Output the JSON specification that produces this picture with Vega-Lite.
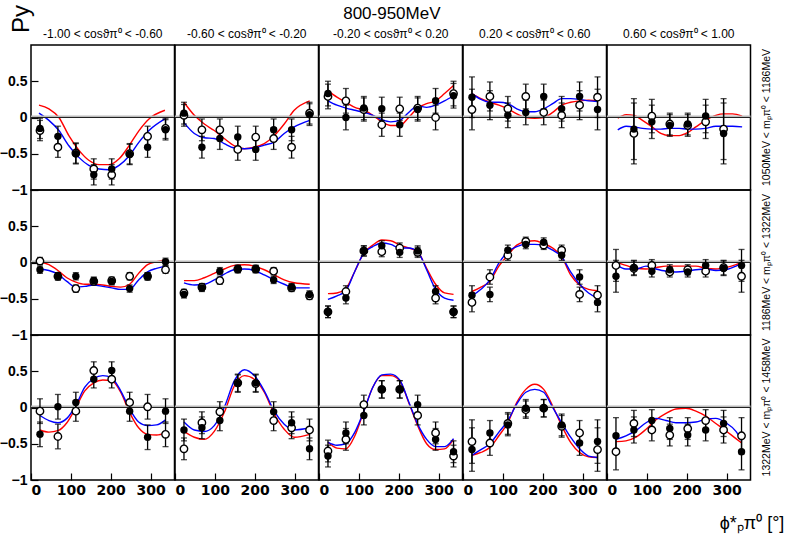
{
  "$schema": "https://vega.github.io/schema/vega-lite/v6.json",
  "background": "white",
  "padding": {"left": -1, "right": 4, "top": 5, "bottom": 2},
  "title": {"text": "Py", "orient": "left", "anchor": "end", "offset": -35, "fontSize": 24, "fontWeight": "normal", "font": "Liberation Sans", "color": "black"},
  "vconcat": [
    {
      "title": {"text": "800-950MeV", "anchor": "middle", "fontSize": 17, "fontWeight": "normal", "font": "Liberation Sans", "color": "black", "offset": 5},
      "bounds": "flush",
      "data": {"values": [
        {"m":1,"c":1,"t":"f","x":22.5,"y":-0.15,"e":0.14},{"m":1,"c":1,"t":"f","x":67.5,"y":-0.26,"e":0.14},{"m":1,"c":1,"t":"f","x":112.5,"y":-0.50,"e":0.14},{"m":1,"c":1,"t":"f","x":157.5,"y":-0.79,"e":0.14},{"m":1,"c":1,"t":"f","x":202.5,"y":-0.71,"e":0.14},{"m":1,"c":1,"t":"f","x":247.5,"y":-0.51,"e":0.14},{"m":1,"c":1,"t":"f","x":292.5,"y":-0.41,"e":0.14},{"m":1,"c":1,"t":"f","x":337.5,"y":-0.17,"e":0.14},
        {"m":1,"c":1,"t":"o","x":22.5,"y":-0.18,"e":0.14},{"m":1,"c":1,"t":"o","x":67.5,"y":-0.41,"e":0.14},{"m":1,"c":1,"t":"o","x":112.5,"y":-0.49,"e":0.14},{"m":1,"c":1,"t":"o","x":157.5,"y":-0.71,"e":0.14},{"m":1,"c":1,"t":"o","x":202.5,"y":-0.79,"e":0.14},{"m":1,"c":1,"t":"o","x":247.5,"y":-0.50,"e":0.14},{"m":1,"c":1,"t":"o","x":292.5,"y":-0.26,"e":0.14},{"m":1,"c":1,"t":"o","x":337.5,"y":-0.15,"e":0.14},
        {"m":1,"c":1,"t":"r","x":20,"y":0.17},{"m":1,"c":1,"t":"r","x":45,"y":0.12},{"m":1,"c":1,"t":"r","x":70,"y":0.0},{"m":1,"c":1,"t":"r","x":95,"y":-0.25},{"m":1,"c":1,"t":"r","x":120,"y":-0.45},{"m":1,"c":1,"t":"r","x":145,"y":-0.59},{"m":1,"c":1,"t":"r","x":171,"y":-0.65},{"m":1,"c":1,"t":"r","x":196,"y":-0.65},{"m":1,"c":1,"t":"r","x":221,"y":-0.57},{"m":1,"c":1,"t":"r","x":246,"y":-0.39},{"m":1,"c":1,"t":"r","x":271,"y":-0.18},{"m":1,"c":1,"t":"r","x":296,"y":-0.02},{"m":1,"c":1,"t":"r","x":336,"y":0.10},
        {"m":1,"c":1,"t":"b","x":20,"y":0.06},{"m":1,"c":1,"t":"b","x":45,"y":-0.04},{"m":1,"c":1,"t":"b","x":70,"y":-0.18},{"m":1,"c":1,"t":"b","x":95,"y":-0.39},{"m":1,"c":1,"t":"b","x":120,"y":-0.55},{"m":1,"c":1,"t":"b","x":145,"y":-0.66},{"m":1,"c":1,"t":"b","x":171,"y":-0.71},{"m":1,"c":1,"t":"b","x":196,"y":-0.72},{"m":1,"c":1,"t":"b","x":221,"y":-0.66},{"m":1,"c":1,"t":"b","x":246,"y":-0.53},{"m":1,"c":1,"t":"b","x":271,"y":-0.34},{"m":1,"c":1,"t":"b","x":296,"y":-0.18},{"m":1,"c":1,"t":"b","x":336,"y":-0.02},

        {"m":1,"c":2,"t":"f","x":22.5,"y":0.06,"e":0.15},{"m":1,"c":2,"t":"f","x":67.5,"y":-0.41,"e":0.15},{"m":1,"c":2,"t":"f","x":112.5,"y":-0.29,"e":0.15},{"m":1,"c":2,"t":"f","x":157.5,"y":-0.27,"e":0.15},{"m":1,"c":2,"t":"f","x":202.5,"y":-0.44,"e":0.15},{"m":1,"c":2,"t":"f","x":247.5,"y":-0.17,"e":0.15},{"m":1,"c":2,"t":"f","x":292.5,"y":-0.17,"e":0.15},{"m":1,"c":2,"t":"f","x":337.5,"y":0.04,"e":0.15},
        {"m":1,"c":2,"t":"o","x":22.5,"y":0.03,"e":0.15},{"m":1,"c":2,"t":"o","x":67.5,"y":-0.17,"e":0.15},{"m":1,"c":2,"t":"o","x":112.5,"y":-0.17,"e":0.15},{"m":1,"c":2,"t":"o","x":157.5,"y":-0.44,"e":0.15},{"m":1,"c":2,"t":"o","x":202.5,"y":-0.27,"e":0.15},{"m":1,"c":2,"t":"o","x":247.5,"y":-0.29,"e":0.15},{"m":1,"c":2,"t":"o","x":292.5,"y":-0.41,"e":0.15},{"m":1,"c":2,"t":"o","x":337.5,"y":0.06,"e":0.15},
        {"m":1,"c":2,"t":"r","x":22.5,"y":0.21},{"m":1,"c":2,"t":"r","x":48.5,"y":0.03},{"m":1,"c":2,"t":"r","x":73.5,"y":-0.09},{"m":1,"c":2,"t":"r","x":98.5,"y":-0.18},{"m":1,"c":2,"t":"r","x":123.5,"y":-0.29},{"m":1,"c":2,"t":"r","x":149,"y":-0.39},{"m":1,"c":2,"t":"r","x":174,"y":-0.43},{"m":1,"c":2,"t":"r","x":199,"y":-0.41},{"m":1,"c":2,"t":"r","x":224,"y":-0.36},{"m":1,"c":2,"t":"r","x":249,"y":-0.25},{"m":1,"c":2,"t":"r","x":274,"y":-0.09},{"m":1,"c":2,"t":"r","x":299,"y":0.10},{"m":1,"c":2,"t":"r","x":338,"y":0.23},
        {"m":1,"c":2,"t":"b","x":22.5,"y":-0.07},{"m":1,"c":2,"t":"b","x":48.5,"y":-0.22},{"m":1,"c":2,"t":"b","x":73.5,"y":-0.28},{"m":1,"c":2,"t":"b","x":98.5,"y":-0.29},{"m":1,"c":2,"t":"b","x":123.5,"y":-0.36},{"m":1,"c":2,"t":"b","x":149,"y":-0.42},{"m":1,"c":2,"t":"b","x":174,"y":-0.43},{"m":1,"c":2,"t":"b","x":199,"y":-0.42},{"m":1,"c":2,"t":"b","x":224,"y":-0.38},{"m":1,"c":2,"t":"b","x":249,"y":-0.34},{"m":1,"c":2,"t":"b","x":274,"y":-0.22},{"m":1,"c":2,"t":"b","x":299,"y":-0.13},{"m":1,"c":2,"t":"b","x":338,"y":-0.04},

        {"m":1,"c":3,"t":"f","x":22.5,"y":0.33,"e":0.17},{"m":1,"c":3,"t":"f","x":67.5,"y":0.0,"e":0.17},{"m":1,"c":3,"t":"f","x":112.5,"y":0.13,"e":0.16},{"m":1,"c":3,"t":"f","x":157.5,"y":0.12,"e":0.16},{"m":1,"c":3,"t":"f","x":202.5,"y":-0.10,"e":0.16},{"m":1,"c":3,"t":"f","x":247.5,"y":0.11,"e":0.16},{"m":1,"c":3,"t":"f","x":292.5,"y":0.23,"e":0.17},{"m":1,"c":3,"t":"f","x":337.5,"y":0.30,"e":0.17},
        {"m":1,"c":3,"t":"o","x":22.5,"y":0.29,"e":0.17},{"m":1,"c":3,"t":"o","x":67.5,"y":0.23,"e":0.17},{"m":1,"c":3,"t":"o","x":112.5,"y":0.11,"e":0.16},{"m":1,"c":3,"t":"o","x":157.5,"y":-0.10,"e":0.16},{"m":1,"c":3,"t":"o","x":202.5,"y":0.12,"e":0.16},{"m":1,"c":3,"t":"o","x":247.5,"y":0.13,"e":0.16},{"m":1,"c":3,"t":"o","x":292.5,"y":0.0,"e":0.17},{"m":1,"c":3,"t":"o","x":337.5,"y":0.33,"e":0.17},
        {"m":1,"c":3,"t":"r","x":22.5,"y":0.37},{"m":1,"c":3,"t":"r","x":45,"y":0.28},{"m":1,"c":3,"t":"r","x":67.5,"y":0.21},{"m":1,"c":3,"t":"r","x":90,"y":0.14},{"m":1,"c":3,"t":"r","x":112.5,"y":0.10},{"m":1,"c":3,"t":"r","x":135,"y":0.03},{"m":1,"c":3,"t":"r","x":157.5,"y":-0.06},{"m":1,"c":3,"t":"r","x":180,"y":-0.11},{"m":1,"c":3,"t":"r","x":202.5,"y":-0.11},{"m":1,"c":3,"t":"r","x":225,"y":0.0},{"m":1,"c":3,"t":"r","x":247.5,"y":0.13},{"m":1,"c":3,"t":"r","x":270,"y":0.19},{"m":1,"c":3,"t":"r","x":292.5,"y":0.23},{"m":1,"c":3,"t":"r","x":315,"y":0.33},{"m":1,"c":3,"t":"r","x":337.5,"y":0.44},
        {"m":1,"c":3,"t":"b","x":22.5,"y":0.23},{"m":1,"c":3,"t":"b","x":45,"y":0.17},{"m":1,"c":3,"t":"b","x":67.5,"y":0.13},{"m":1,"c":3,"t":"b","x":90,"y":0.10},{"m":1,"c":3,"t":"b","x":112.5,"y":0.07},{"m":1,"c":3,"t":"b","x":135,"y":0.03},{"m":1,"c":3,"t":"b","x":157.5,"y":-0.03},{"m":1,"c":3,"t":"b","x":180,"y":-0.06},{"m":1,"c":3,"t":"b","x":202.5,"y":-0.04},{"m":1,"c":3,"t":"b","x":225,"y":0.07},{"m":1,"c":3,"t":"b","x":247.5,"y":0.16},{"m":1,"c":3,"t":"b","x":270,"y":0.14},{"m":1,"c":3,"t":"b","x":292.5,"y":0.17},{"m":1,"c":3,"t":"b","x":315,"y":0.23},{"m":1,"c":3,"t":"b","x":337.5,"y":0.30},

        {"m":1,"c":4,"t":"f","x":22.5,"y":0.28,"e":0.28},{"m":1,"c":4,"t":"f","x":67.5,"y":0.17,"e":0.2},{"m":1,"c":4,"t":"f","x":112.5,"y":0.03,"e":0.17},{"m":1,"c":4,"t":"f","x":157.5,"y":0.07,"e":0.17},{"m":1,"c":4,"t":"f","x":202.5,"y":0.29,"e":0.17},{"m":1,"c":4,"t":"f","x":247.5,"y":0.12,"e":0.17},{"m":1,"c":4,"t":"f","x":292.5,"y":0.29,"e":0.2},{"m":1,"c":4,"t":"f","x":337.5,"y":0.11,"e":0.28},
        {"m":1,"c":4,"t":"o","x":22.5,"y":0.11,"e":0.28},{"m":1,"c":4,"t":"o","x":67.5,"y":0.29,"e":0.2},{"m":1,"c":4,"t":"o","x":112.5,"y":0.12,"e":0.17},{"m":1,"c":4,"t":"o","x":157.5,"y":0.29,"e":0.17},{"m":1,"c":4,"t":"o","x":202.5,"y":0.07,"e":0.17},{"m":1,"c":4,"t":"o","x":247.5,"y":0.03,"e":0.17},{"m":1,"c":4,"t":"o","x":292.5,"y":0.17,"e":0.2},{"m":1,"c":4,"t":"o","x":337.5,"y":0.28,"e":0.28},
        {"m":1,"c":4,"t":"r","x":22.5,"y":0.33},{"m":1,"c":4,"t":"r","x":45,"y":0.26},{"m":1,"c":4,"t":"r","x":67.5,"y":0.21},{"m":1,"c":4,"t":"r","x":90,"y":0.17},{"m":1,"c":4,"t":"r","x":112.5,"y":0.12},{"m":1,"c":4,"t":"r","x":135,"y":0.05},{"m":1,"c":4,"t":"r","x":157.5,"y":0.0},{"m":1,"c":4,"t":"r","x":180,"y":-0.01},{"m":1,"c":4,"t":"r","x":202.5,"y":0.0},{"m":1,"c":4,"t":"r","x":225,"y":0.07},{"m":1,"c":4,"t":"r","x":247.5,"y":0.17},{"m":1,"c":4,"t":"r","x":270,"y":0.21},{"m":1,"c":4,"t":"r","x":292.5,"y":0.23},{"m":1,"c":4,"t":"r","x":315,"y":0.24},{"m":1,"c":4,"t":"r","x":337.5,"y":0.23},
        {"m":1,"c":4,"t":"b","x":22.5,"y":0.33},{"m":1,"c":4,"t":"b","x":45,"y":0.25},{"m":1,"c":4,"t":"b","x":67.5,"y":0.21},{"m":1,"c":4,"t":"b","x":90,"y":0.21},{"m":1,"c":4,"t":"b","x":112.5,"y":0.19},{"m":1,"c":4,"t":"b","x":135,"y":0.12},{"m":1,"c":4,"t":"b","x":157.5,"y":0.08},{"m":1,"c":4,"t":"b","x":180,"y":0.08},{"m":1,"c":4,"t":"b","x":202.5,"y":0.12},{"m":1,"c":4,"t":"b","x":225,"y":0.19},{"m":1,"c":4,"t":"b","x":247.5,"y":0.26},{"m":1,"c":4,"t":"b","x":270,"y":0.26},{"m":1,"c":4,"t":"b","x":292.5,"y":0.25},{"m":1,"c":4,"t":"b","x":315,"y":0.23},{"m":1,"c":4,"t":"b","x":337.5,"y":0.22},

        {"m":1,"c":5,"t":"f","x":67.5,"y":-0.16,"e":0.42},{"m":1,"c":5,"t":"f","x":112.5,"y":-0.06,"e":0.23},{"m":1,"c":5,"t":"f","x":157.5,"y":-0.11,"e":0.15},{"m":1,"c":5,"t":"f","x":202.5,"y":-0.09,"e":0.15},{"m":1,"c":5,"t":"f","x":247.5,"y":0.02,"e":0.23},{"m":1,"c":5,"t":"f","x":292.5,"y":-0.22,"e":0.42},
        {"m":1,"c":5,"t":"o","x":67.5,"y":-0.22,"e":0.42},{"m":1,"c":5,"t":"o","x":112.5,"y":0.02,"e":0.23},{"m":1,"c":5,"t":"o","x":157.5,"y":-0.09,"e":0.15},{"m":1,"c":5,"t":"o","x":202.5,"y":-0.11,"e":0.15},{"m":1,"c":5,"t":"o","x":247.5,"y":-0.06,"e":0.23},{"m":1,"c":5,"t":"o","x":292.5,"y":-0.16,"e":0.42},
        {"m":1,"c":5,"t":"r","x":27,"y":-0.01},{"m":1,"c":5,"t":"r","x":48,"y":0.04},{"m":1,"c":5,"t":"r","x":68,"y":0.03},{"m":1,"c":5,"t":"r","x":89,"y":-0.04},{"m":1,"c":5,"t":"r","x":113,"y":-0.13},{"m":1,"c":5,"t":"r","x":135,"y":-0.22},{"m":1,"c":5,"t":"r","x":157,"y":-0.25},{"m":1,"c":5,"t":"r","x":181,"y":-0.25},{"m":1,"c":5,"t":"r","x":202,"y":-0.21},{"m":1,"c":5,"t":"r","x":223,"y":-0.13},{"m":1,"c":5,"t":"r","x":247,"y":-0.04},{"m":1,"c":5,"t":"r","x":273,"y":0.03},{"m":1,"c":5,"t":"r","x":293,"y":0.05},{"m":1,"c":5,"t":"r","x":315,"y":0.05},{"m":1,"c":5,"t":"r","x":339,"y":0.02},
        {"m":1,"c":5,"t":"b","x":27,"y":-0.17},{"m":1,"c":5,"t":"b","x":48,"y":-0.12},{"m":1,"c":5,"t":"b","x":68,"y":-0.13},{"m":1,"c":5,"t":"b","x":89,"y":-0.15},{"m":1,"c":5,"t":"b","x":113,"y":-0.16},{"m":1,"c":5,"t":"b","x":135,"y":-0.16},{"m":1,"c":5,"t":"b","x":157,"y":-0.15},{"m":1,"c":5,"t":"b","x":181,"y":-0.15},{"m":1,"c":5,"t":"b","x":202,"y":-0.16},{"m":1,"c":5,"t":"b","x":223,"y":-0.16},{"m":1,"c":5,"t":"b","x":247,"y":-0.15},{"m":1,"c":5,"t":"b","x":273,"y":-0.12},{"m":1,"c":5,"t":"b","x":293,"y":-0.12},{"m":1,"c":5,"t":"b","x":315,"y":-0.12},{"m":1,"c":5,"t":"b","x":339,"y":-0.13},

        {"m":2,"c":1,"t":"f","x":22.5,"y":-0.10,"e":0.05},{"m":2,"c":1,"t":"f","x":67.5,"y":-0.19,"e":0.05},{"m":2,"c":1,"t":"f","x":112.5,"y":-0.19,"e":0.05},{"m":2,"c":1,"t":"f","x":157.5,"y":-0.25,"e":0.05},{"m":2,"c":1,"t":"f","x":202.5,"y":-0.26,"e":0.05},{"m":2,"c":1,"t":"f","x":247.5,"y":-0.36,"e":0.05},{"m":2,"c":1,"t":"f","x":292.5,"y":-0.19,"e":0.05},{"m":2,"c":1,"t":"f","x":337.5,"y":0.01,"e":0.05},
        {"m":2,"c":1,"t":"o","x":22.5,"y":0.02,"e":0.05},{"m":2,"c":1,"t":"o","x":67.5,"y":-0.19,"e":0.05},{"m":2,"c":1,"t":"o","x":112.5,"y":-0.36,"e":0.05},{"m":2,"c":1,"t":"o","x":157.5,"y":-0.26,"e":0.05},{"m":2,"c":1,"t":"o","x":202.5,"y":-0.25,"e":0.05},{"m":2,"c":1,"t":"o","x":247.5,"y":-0.19,"e":0.05},{"m":2,"c":1,"t":"o","x":292.5,"y":-0.19,"e":0.05},{"m":2,"c":1,"t":"o","x":337.5,"y":-0.10,"e":0.05},
        {"m":2,"c":1,"t":"r","x":22.5,"y":0.01},{"m":2,"c":1,"t":"r","x":45,"y":-0.03},{"m":2,"c":1,"t":"r","x":67.5,"y":-0.11},{"m":2,"c":1,"t":"r","x":90,"y":-0.21},{"m":2,"c":1,"t":"r","x":112.5,"y":-0.27},{"m":2,"c":1,"t":"r","x":135,"y":-0.30},{"m":2,"c":1,"t":"r","x":157.5,"y":-0.30},{"m":2,"c":1,"t":"r","x":180,"y":-0.31},{"m":2,"c":1,"t":"r","x":202.5,"y":-0.33},{"m":2,"c":1,"t":"r","x":225,"y":-0.34},{"m":2,"c":1,"t":"r","x":247.5,"y":-0.30},{"m":2,"c":1,"t":"r","x":270,"y":-0.15},{"m":2,"c":1,"t":"r","x":292.5,"y":-0.03},{"m":2,"c":1,"t":"r","x":315,"y":0.01},{"m":2,"c":1,"t":"r","x":337.5,"y":0.04},
        {"m":2,"c":1,"t":"b","x":22.5,"y":-0.09},{"m":2,"c":1,"t":"b","x":45,"y":-0.11},{"m":2,"c":1,"t":"b","x":67.5,"y":-0.16},{"m":2,"c":1,"t":"b","x":90,"y":-0.26},{"m":2,"c":1,"t":"b","x":112.5,"y":-0.34},{"m":2,"c":1,"t":"b","x":135,"y":-0.33},{"m":2,"c":1,"t":"b","x":157.5,"y":-0.31},{"m":2,"c":1,"t":"b","x":180,"y":-0.33},{"m":2,"c":1,"t":"b","x":202.5,"y":-0.35},{"m":2,"c":1,"t":"b","x":225,"y":-0.37},{"m":2,"c":1,"t":"b","x":247.5,"y":-0.37},{"m":2,"c":1,"t":"b","x":270,"y":-0.24},{"m":2,"c":1,"t":"b","x":292.5,"y":-0.13},{"m":2,"c":1,"t":"b","x":315,"y":-0.08},{"m":2,"c":1,"t":"b","x":337.5,"y":-0.05},

        {"m":2,"c":2,"t":"f","x":22.5,"y":-0.44,"e":0.05},{"m":2,"c":2,"t":"f","x":67.5,"y":-0.35,"e":0.05},{"m":2,"c":2,"t":"f","x":112.5,"y":-0.12,"e":0.05},{"m":2,"c":2,"t":"f","x":157.5,"y":-0.09,"e":0.05},{"m":2,"c":2,"t":"f","x":202.5,"y":-0.09,"e":0.05},{"m":2,"c":2,"t":"f","x":247.5,"y":-0.24,"e":0.05},{"m":2,"c":2,"t":"f","x":292.5,"y":-0.34,"e":0.05},{"m":2,"c":2,"t":"f","x":337.5,"y":-0.44,"e":0.05},
        {"m":2,"c":2,"t":"o","x":22.5,"y":-0.42,"e":0.05},{"m":2,"c":2,"t":"o","x":67.5,"y":-0.34,"e":0.05},{"m":2,"c":2,"t":"o","x":112.5,"y":-0.25,"e":0.05},{"m":2,"c":2,"t":"o","x":157.5,"y":-0.09,"e":0.05},{"m":2,"c":2,"t":"o","x":202.5,"y":-0.09,"e":0.05},{"m":2,"c":2,"t":"o","x":247.5,"y":-0.12,"e":0.05},{"m":2,"c":2,"t":"o","x":292.5,"y":-0.35,"e":0.05},{"m":2,"c":2,"t":"o","x":337.5,"y":-0.46,"e":0.05},
        {"m":2,"c":2,"t":"r","x":22.5,"y":-0.25},{"m":2,"c":2,"t":"r","x":48.5,"y":-0.25},{"m":2,"c":2,"t":"r","x":73.5,"y":-0.21},{"m":2,"c":2,"t":"r","x":98.5,"y":-0.15},{"m":2,"c":2,"t":"r","x":123.5,"y":-0.09},{"m":2,"c":2,"t":"r","x":149,"y":-0.04},{"m":2,"c":2,"t":"r","x":174,"y":-0.03},{"m":2,"c":2,"t":"r","x":199,"y":-0.05},{"m":2,"c":2,"t":"r","x":224,"y":-0.10},{"m":2,"c":2,"t":"r","x":249,"y":-0.17},{"m":2,"c":2,"t":"r","x":274,"y":-0.24},{"m":2,"c":2,"t":"r","x":299,"y":-0.28},{"m":2,"c":2,"t":"r","x":338,"y":-0.30},
        {"m":2,"c":2,"t":"b","x":22.5,"y":-0.28},{"m":2,"c":2,"t":"b","x":48.5,"y":-0.31},{"m":2,"c":2,"t":"b","x":73.5,"y":-0.30},{"m":2,"c":2,"t":"b","x":98.5,"y":-0.24},{"m":2,"c":2,"t":"b","x":123.5,"y":-0.16},{"m":2,"c":2,"t":"b","x":149,"y":-0.10},{"m":2,"c":2,"t":"b","x":174,"y":-0.09},{"m":2,"c":2,"t":"b","x":199,"y":-0.11},{"m":2,"c":2,"t":"b","x":224,"y":-0.17},{"m":2,"c":2,"t":"b","x":249,"y":-0.24},{"m":2,"c":2,"t":"b","x":274,"y":-0.30},{"m":2,"c":2,"t":"b","x":299,"y":-0.35},{"m":2,"c":2,"t":"b","x":338,"y":-0.35},

        {"m":2,"c":3,"t":"f","x":22.5,"y":-0.68,"e":0.08},{"m":2,"c":3,"t":"f","x":67.5,"y":-0.49,"e":0.08},{"m":2,"c":3,"t":"f","x":112.5,"y":0.16,"e":0.07},{"m":2,"c":3,"t":"f","x":157.5,"y":0.23,"e":0.07},{"m":2,"c":3,"t":"f","x":202.5,"y":0.14,"e":0.07},{"m":2,"c":3,"t":"f","x":247.5,"y":0.16,"e":0.07},{"m":2,"c":3,"t":"f","x":292.5,"y":-0.40,"e":0.08},{"m":2,"c":3,"t":"f","x":337.5,"y":-0.68,"e":0.08},
        {"m":2,"c":3,"t":"o","x":22.5,"y":-0.68,"e":0.08},{"m":2,"c":3,"t":"o","x":67.5,"y":-0.40,"e":0.08},{"m":2,"c":3,"t":"o","x":112.5,"y":0.16,"e":0.07},{"m":2,"c":3,"t":"o","x":157.5,"y":0.15,"e":0.07},{"m":2,"c":3,"t":"o","x":202.5,"y":0.20,"e":0.07},{"m":2,"c":3,"t":"o","x":247.5,"y":0.14,"e":0.07},{"m":2,"c":3,"t":"o","x":292.5,"y":-0.49,"e":0.08},{"m":2,"c":3,"t":"o","x":337.5,"y":-0.68,"e":0.08},
        {"m":2,"c":3,"t":"r","x":22.5,"y":-0.43},{"m":2,"c":3,"t":"r","x":45,"y":-0.42},{"m":2,"c":3,"t":"r","x":67.5,"y":-0.36},{"m":2,"c":3,"t":"r","x":90,"y":-0.12},{"m":2,"c":3,"t":"r","x":112.5,"y":0.13},{"m":2,"c":3,"t":"r","x":135,"y":0.24},{"m":2,"c":3,"t":"r","x":157.5,"y":0.31},{"m":2,"c":3,"t":"r","x":180,"y":0.30},{"m":2,"c":3,"t":"r","x":202.5,"y":0.24},{"m":2,"c":3,"t":"r","x":225,"y":0.20},{"m":2,"c":3,"t":"r","x":247.5,"y":0.15},{"m":2,"c":3,"t":"r","x":270,"y":-0.08},{"m":2,"c":3,"t":"r","x":292.5,"y":-0.30},{"m":2,"c":3,"t":"r","x":315,"y":-0.42},{"m":2,"c":3,"t":"r","x":337.5,"y":-0.44},
        {"m":2,"c":3,"t":"b","x":22.5,"y":-0.51},{"m":2,"c":3,"t":"b","x":45,"y":-0.46},{"m":2,"c":3,"t":"b","x":67.5,"y":-0.39},{"m":2,"c":3,"t":"b","x":90,"y":-0.12},{"m":2,"c":3,"t":"b","x":112.5,"y":0.13},{"m":2,"c":3,"t":"b","x":135,"y":0.22},{"m":2,"c":3,"t":"b","x":157.5,"y":0.27},{"m":2,"c":3,"t":"b","x":180,"y":0.25},{"m":2,"c":3,"t":"b","x":202.5,"y":0.20},{"m":2,"c":3,"t":"b","x":225,"y":0.20},{"m":2,"c":3,"t":"b","x":247.5,"y":0.15},{"m":2,"c":3,"t":"b","x":270,"y":-0.10},{"m":2,"c":3,"t":"b","x":292.5,"y":-0.37},{"m":2,"c":3,"t":"b","x":315,"y":-0.49},{"m":2,"c":3,"t":"b","x":337.5,"y":-0.52},

        {"m":2,"c":4,"t":"f","x":22.5,"y":-0.45,"e":0.13},{"m":2,"c":4,"t":"f","x":67.5,"y":-0.44,"e":0.1},{"m":2,"c":4,"t":"f","x":112.5,"y":0.17,"e":0.07},{"m":2,"c":4,"t":"f","x":157.5,"y":0.25,"e":0.06},{"m":2,"c":4,"t":"f","x":202.5,"y":0.28,"e":0.06},{"m":2,"c":4,"t":"f","x":247.5,"y":0.10,"e":0.07},{"m":2,"c":4,"t":"f","x":292.5,"y":-0.20,"e":0.1},{"m":2,"c":4,"t":"f","x":337.5,"y":-0.55,"e":0.13},
        {"m":2,"c":4,"t":"o","x":22.5,"y":-0.55,"e":0.13},{"m":2,"c":4,"t":"o","x":67.5,"y":-0.20,"e":0.1},{"m":2,"c":4,"t":"o","x":112.5,"y":0.10,"e":0.07},{"m":2,"c":4,"t":"o","x":157.5,"y":0.29,"e":0.06},{"m":2,"c":4,"t":"o","x":202.5,"y":0.24,"e":0.06},{"m":2,"c":4,"t":"o","x":247.5,"y":0.17,"e":0.07},{"m":2,"c":4,"t":"o","x":292.5,"y":-0.44,"e":0.1},{"m":2,"c":4,"t":"o","x":337.5,"y":-0.45,"e":0.13},
        {"m":2,"c":4,"t":"r","x":22.5,"y":-0.40},{"m":2,"c":4,"t":"r","x":45,"y":-0.34},{"m":2,"c":4,"t":"r","x":67.5,"y":-0.26},{"m":2,"c":4,"t":"r","x":90,"y":-0.05},{"m":2,"c":4,"t":"r","x":112.5,"y":0.10},{"m":2,"c":4,"t":"r","x":135,"y":0.24},{"m":2,"c":4,"t":"r","x":157.5,"y":0.29},{"m":2,"c":4,"t":"r","x":180,"y":0.30},{"m":2,"c":4,"t":"r","x":202.5,"y":0.26},{"m":2,"c":4,"t":"r","x":225,"y":0.20},{"m":2,"c":4,"t":"r","x":247.5,"y":0.08},{"m":2,"c":4,"t":"r","x":270,"y":-0.17},{"m":2,"c":4,"t":"r","x":292.5,"y":-0.31},{"m":2,"c":4,"t":"r","x":315,"y":-0.37},{"m":2,"c":4,"t":"r","x":337.5,"y":-0.39},
        {"m":2,"c":4,"t":"b","x":22.5,"y":-0.46},{"m":2,"c":4,"t":"b","x":45,"y":-0.37},{"m":2,"c":4,"t":"b","x":67.5,"y":-0.24},{"m":2,"c":4,"t":"b","x":90,"y":-0.01},{"m":2,"c":4,"t":"b","x":112.5,"y":0.15},{"m":2,"c":4,"t":"b","x":135,"y":0.22},{"m":2,"c":4,"t":"b","x":157.5,"y":0.25},{"m":2,"c":4,"t":"b","x":180,"y":0.25},{"m":2,"c":4,"t":"b","x":202.5,"y":0.23},{"m":2,"c":4,"t":"b","x":225,"y":0.17},{"m":2,"c":4,"t":"b","x":247.5,"y":0.08},{"m":2,"c":4,"t":"b","x":270,"y":-0.13},{"m":2,"c":4,"t":"b","x":292.5,"y":-0.30},{"m":2,"c":4,"t":"b","x":315,"y":-0.42},{"m":2,"c":4,"t":"b","x":337.5,"y":-0.49},

        {"m":2,"c":5,"t":"f","x":22.5,"y":-0.19,"e":0.22},{"m":2,"c":5,"t":"f","x":67.5,"y":-0.07,"e":0.1},{"m":2,"c":5,"t":"f","x":112.5,"y":-0.12,"e":0.08},{"m":2,"c":5,"t":"f","x":157.5,"y":-0.10,"e":0.07},{"m":2,"c":5,"t":"f","x":202.5,"y":-0.13,"e":0.07},{"m":2,"c":5,"t":"f","x":247.5,"y":-0.04,"e":0.08},{"m":2,"c":5,"t":"f","x":292.5,"y":-0.08,"e":0.1},{"m":2,"c":5,"t":"f","x":337.5,"y":-0.04,"e":0.22},
        {"m":2,"c":5,"t":"o","x":22.5,"y":-0.04,"e":0.22},{"m":2,"c":5,"t":"o","x":67.5,"y":-0.08,"e":0.1},{"m":2,"c":5,"t":"o","x":112.5,"y":-0.04,"e":0.08},{"m":2,"c":5,"t":"o","x":157.5,"y":-0.13,"e":0.07},{"m":2,"c":5,"t":"o","x":202.5,"y":-0.10,"e":0.07},{"m":2,"c":5,"t":"o","x":247.5,"y":-0.12,"e":0.08},{"m":2,"c":5,"t":"o","x":292.5,"y":-0.07,"e":0.1},{"m":2,"c":5,"t":"o","x":337.5,"y":-0.19,"e":0.22},
        {"m":2,"c":5,"t":"r","x":22.5,"y":0.01},{"m":2,"c":5,"t":"r","x":47.5,"y":-0.04},{"m":2,"c":5,"t":"r","x":72.5,"y":-0.08},{"m":2,"c":5,"t":"r","x":98,"y":-0.09},{"m":2,"c":5,"t":"r","x":123,"y":-0.07},{"m":2,"c":5,"t":"r","x":148,"y":-0.05},{"m":2,"c":5,"t":"r","x":173,"y":-0.05},{"m":2,"c":5,"t":"r","x":198,"y":-0.05},{"m":2,"c":5,"t":"r","x":223,"y":-0.05},{"m":2,"c":5,"t":"r","x":248,"y":-0.08},{"m":2,"c":5,"t":"r","x":273,"y":-0.09},{"m":2,"c":5,"t":"r","x":298,"y":-0.07},{"m":2,"c":5,"t":"r","x":323.5,"y":-0.03},{"m":2,"c":5,"t":"r","x":338,"y":0.0},
        {"m":2,"c":5,"t":"b","x":22.5,"y":-0.03},{"m":2,"c":5,"t":"b","x":47.5,"y":-0.09},{"m":2,"c":5,"t":"b","x":72.5,"y":-0.09},{"m":2,"c":5,"t":"b","x":98,"y":-0.05},{"m":2,"c":5,"t":"b","x":123,"y":-0.09},{"m":2,"c":5,"t":"b","x":148,"y":-0.12},{"m":2,"c":5,"t":"b","x":173,"y":-0.13},{"m":2,"c":5,"t":"b","x":198,"y":-0.12},{"m":2,"c":5,"t":"b","x":223,"y":-0.10},{"m":2,"c":5,"t":"b","x":248,"y":-0.09},{"m":2,"c":5,"t":"b","x":273,"y":-0.11},{"m":2,"c":5,"t":"b","x":298,"y":-0.10},{"m":2,"c":5,"t":"b","x":323.5,"y":-0.05},{"m":2,"c":5,"t":"b","x":338,"y":-0.01},

        {"m":3,"c":1,"t":"f","x":22.5,"y":-0.37,"e":0.17},{"m":3,"c":1,"t":"f","x":67.5,"y":0.01,"e":0.17},{"m":3,"c":1,"t":"f","x":112.5,"y":0.07,"e":0.14},{"m":3,"c":1,"t":"f","x":157.5,"y":0.39,"e":0.12},{"m":3,"c":1,"t":"f","x":202.5,"y":0.51,"e":0.12},{"m":3,"c":1,"t":"f","x":247.5,"y":-0.05,"e":0.14},{"m":3,"c":1,"t":"f","x":292.5,"y":-0.41,"e":0.17},{"m":3,"c":1,"t":"f","x":337.5,"y":-0.05,"e":0.17},
        {"m":3,"c":1,"t":"o","x":22.5,"y":-0.05,"e":0.17},{"m":3,"c":1,"t":"o","x":67.5,"y":-0.40,"e":0.17},{"m":3,"c":1,"t":"o","x":112.5,"y":-0.05,"e":0.14},{"m":3,"c":1,"t":"o","x":157.5,"y":0.51,"e":0.12},{"m":3,"c":1,"t":"o","x":202.5,"y":0.39,"e":0.12},{"m":3,"c":1,"t":"o","x":247.5,"y":0.07,"e":0.14},{"m":3,"c":1,"t":"o","x":292.5,"y":0.01,"e":0.17},{"m":3,"c":1,"t":"o","x":337.5,"y":-0.37,"e":0.17},
        {"m":3,"c":1,"t":"r","x":22.5,"y":-0.31},{"m":3,"c":1,"t":"r","x":45,"y":-0.34},{"m":3,"c":1,"t":"r","x":67.5,"y":-0.32},{"m":3,"c":1,"t":"r","x":90,"y":-0.21},{"m":3,"c":1,"t":"r","x":112.5,"y":0.0},{"m":3,"c":1,"t":"r","x":135,"y":0.23},{"m":3,"c":1,"t":"r","x":157.5,"y":0.34},{"m":3,"c":1,"t":"r","x":180,"y":0.38},{"m":3,"c":1,"t":"r","x":202.5,"y":0.37},{"m":3,"c":1,"t":"r","x":225,"y":0.21},{"m":3,"c":1,"t":"r","x":247.5,"y":-0.07},{"m":3,"c":1,"t":"r","x":270,"y":-0.28},{"m":3,"c":1,"t":"r","x":292.5,"y":-0.37},{"m":3,"c":1,"t":"r","x":315,"y":-0.38},{"m":3,"c":1,"t":"r","x":337.5,"y":-0.35},
        {"m":3,"c":1,"t":"b","x":22.5,"y":-0.11},{"m":3,"c":1,"t":"b","x":45,"y":-0.18},{"m":3,"c":1,"t":"b","x":67.5,"y":-0.21},{"m":3,"c":1,"t":"b","x":90,"y":-0.15},{"m":3,"c":1,"t":"b","x":112.5,"y":0.03},{"m":3,"c":1,"t":"b","x":135,"y":0.28},{"m":3,"c":1,"t":"b","x":157.5,"y":0.40},{"m":3,"c":1,"t":"b","x":180,"y":0.44},{"m":3,"c":1,"t":"b","x":202.5,"y":0.41},{"m":3,"c":1,"t":"b","x":225,"y":0.23},{"m":3,"c":1,"t":"b","x":247.5,"y":-0.02},{"m":3,"c":1,"t":"b","x":270,"y":-0.20},{"m":3,"c":1,"t":"b","x":292.5,"y":-0.25},{"m":3,"c":1,"t":"b","x":315,"y":-0.24},{"m":3,"c":1,"t":"b","x":337.5,"y":-0.17},

        {"m":3,"c":2,"t":"f","x":22.5,"y":-0.31,"e":0.15},{"m":3,"c":2,"t":"f","x":67.5,"y":-0.28,"e":0.15},{"m":3,"c":2,"t":"f","x":112.5,"y":-0.18,"e":0.14},{"m":3,"c":2,"t":"f","x":157.5,"y":0.33,"e":0.12},{"m":3,"c":2,"t":"f","x":202.5,"y":0.34,"e":0.12},{"m":3,"c":2,"t":"f","x":247.5,"y":-0.06,"e":0.14},{"m":3,"c":2,"t":"f","x":292.5,"y":-0.21,"e":0.15},{"m":3,"c":2,"t":"f","x":337.5,"y":-0.57,"e":0.15},
        {"m":3,"c":2,"t":"o","x":22.5,"y":-0.57,"e":0.15},{"m":3,"c":2,"t":"o","x":67.5,"y":-0.21,"e":0.15},{"m":3,"c":2,"t":"o","x":112.5,"y":-0.06,"e":0.14},{"m":3,"c":2,"t":"o","x":157.5,"y":0.34,"e":0.12},{"m":3,"c":2,"t":"o","x":202.5,"y":0.33,"e":0.12},{"m":3,"c":2,"t":"o","x":247.5,"y":-0.18,"e":0.14},{"m":3,"c":2,"t":"o","x":292.5,"y":-0.28,"e":0.15},{"m":3,"c":2,"t":"o","x":337.5,"y":-0.31,"e":0.15},
        {"m":3,"c":2,"t":"r","x":22.5,"y":-0.33},{"m":3,"c":2,"t":"r","x":48.5,"y":-0.41},{"m":3,"c":2,"t":"r","x":73.5,"y":-0.44},{"m":3,"c":2,"t":"r","x":98.5,"y":-0.33},{"m":3,"c":2,"t":"r","x":123.5,"y":-0.07},{"m":3,"c":2,"t":"r","x":149,"y":0.30},{"m":3,"c":2,"t":"r","x":174,"y":0.44},{"m":3,"c":2,"t":"r","x":199,"y":0.39},{"m":3,"c":2,"t":"r","x":224,"y":0.21},{"m":3,"c":2,"t":"r","x":249,"y":-0.09},{"m":3,"c":2,"t":"r","x":274,"y":-0.30},{"m":3,"c":2,"t":"r","x":299,"y":-0.41},{"m":3,"c":2,"t":"r","x":338,"y":-0.37},
        {"m":3,"c":2,"t":"b","x":22.5,"y":-0.20},{"m":3,"c":2,"t":"b","x":48.5,"y":-0.31},{"m":3,"c":2,"t":"b","x":73.5,"y":-0.33},{"m":3,"c":2,"t":"b","x":98.5,"y":-0.25},{"m":3,"c":2,"t":"b","x":123.5,"y":0.0},{"m":3,"c":2,"t":"b","x":149,"y":0.37},{"m":3,"c":2,"t":"b","x":174,"y":0.52},{"m":3,"c":2,"t":"b","x":199,"y":0.44},{"m":3,"c":2,"t":"b","x":224,"y":0.23},{"m":3,"c":2,"t":"b","x":249,"y":-0.05},{"m":3,"c":2,"t":"b","x":274,"y":-0.23},{"m":3,"c":2,"t":"b","x":299,"y":-0.31},{"m":3,"c":2,"t":"b","x":338,"y":-0.28},

        {"m":3,"c":3,"t":"f","x":22.5,"y":-0.67,"e":0.15},{"m":3,"c":3,"t":"f","x":67.5,"y":-0.35,"e":0.15},{"m":3,"c":3,"t":"f","x":112.5,"y":-0.11,"e":0.13},{"m":3,"c":3,"t":"f","x":157.5,"y":0.25,"e":0.12},{"m":3,"c":3,"t":"f","x":202.5,"y":0.25,"e":0.12},{"m":3,"c":3,"t":"f","x":247.5,"y":0.04,"e":0.13},{"m":3,"c":3,"t":"f","x":292.5,"y":-0.44,"e":0.15},{"m":3,"c":3,"t":"f","x":337.5,"y":-0.61,"e":0.15},
        {"m":3,"c":3,"t":"o","x":22.5,"y":-0.60,"e":0.15},{"m":3,"c":3,"t":"o","x":67.5,"y":-0.44,"e":0.15},{"m":3,"c":3,"t":"o","x":112.5,"y":0.04,"e":0.13},{"m":3,"c":3,"t":"o","x":157.5,"y":0.25,"e":0.12},{"m":3,"c":3,"t":"o","x":202.5,"y":0.25,"e":0.12},{"m":3,"c":3,"t":"o","x":247.5,"y":-0.11,"e":0.13},{"m":3,"c":3,"t":"o","x":292.5,"y":-0.35,"e":0.15},{"m":3,"c":3,"t":"o","x":337.5,"y":-0.67,"e":0.15},
        {"m":3,"c":3,"t":"r","x":22.5,"y":-0.48},{"m":3,"c":3,"t":"r","x":45,"y":-0.56},{"m":3,"c":3,"t":"r","x":67.5,"y":-0.57},{"m":3,"c":3,"t":"r","x":90,"y":-0.39},{"m":3,"c":3,"t":"r","x":112.5,"y":-0.05},{"m":3,"c":3,"t":"r","x":135,"y":0.28},{"m":3,"c":3,"t":"r","x":157.5,"y":0.44},{"m":3,"c":3,"t":"r","x":180,"y":0.44},{"m":3,"c":3,"t":"r","x":202.5,"y":0.37},{"m":3,"c":3,"t":"r","x":225,"y":0.07},{"m":3,"c":3,"t":"r","x":247.5,"y":-0.25},{"m":3,"c":3,"t":"r","x":270,"y":-0.50},{"m":3,"c":3,"t":"r","x":292.5,"y":-0.58},{"m":3,"c":3,"t":"r","x":315,"y":-0.57},{"m":3,"c":3,"t":"r","x":337.5,"y":-0.44},
        {"m":3,"c":3,"t":"b","x":22.5,"y":-0.48},{"m":3,"c":3,"t":"b","x":45,"y":-0.52},{"m":3,"c":3,"t":"b","x":67.5,"y":-0.50},{"m":3,"c":3,"t":"b","x":90,"y":-0.34},{"m":3,"c":3,"t":"b","x":112.5,"y":-0.05},{"m":3,"c":3,"t":"b","x":135,"y":0.28},{"m":3,"c":3,"t":"b","x":157.5,"y":0.45},{"m":3,"c":3,"t":"b","x":180,"y":0.46},{"m":3,"c":3,"t":"b","x":202.5,"y":0.38},{"m":3,"c":3,"t":"b","x":225,"y":0.08},{"m":3,"c":3,"t":"b","x":247.5,"y":-0.23},{"m":3,"c":3,"t":"b","x":270,"y":-0.44},{"m":3,"c":3,"t":"b","x":292.5,"y":-0.54},{"m":3,"c":3,"t":"b","x":315,"y":-0.54},{"m":3,"c":3,"t":"b","x":337.5,"y":-0.43},

        {"m":3,"c":4,"t":"f","x":22.5,"y":-0.58,"e":0.3},{"m":3,"c":4,"t":"f","x":67.5,"y":-0.35,"e":0.17},{"m":3,"c":4,"t":"f","x":112.5,"y":-0.24,"e":0.15},{"m":3,"c":4,"t":"f","x":157.5,"y":-0.01,"e":0.12},{"m":3,"c":4,"t":"f","x":202.5,"y":-0.01,"e":0.12},{"m":3,"c":4,"t":"f","x":247.5,"y":-0.24,"e":0.15},{"m":3,"c":4,"t":"f","x":292.5,"y":-0.49,"e":0.17},{"m":3,"c":4,"t":"f","x":337.5,"y":-0.47,"e":0.3},
        {"m":3,"c":4,"t":"o","x":22.5,"y":-0.47,"e":0.3},{"m":3,"c":4,"t":"o","x":67.5,"y":-0.49,"e":0.17},{"m":3,"c":4,"t":"o","x":112.5,"y":-0.22,"e":0.15},{"m":3,"c":4,"t":"o","x":157.5,"y":-0.03,"e":0.12},{"m":3,"c":4,"t":"o","x":202.5,"y":-0.01,"e":0.12},{"m":3,"c":4,"t":"o","x":247.5,"y":-0.26,"e":0.15},{"m":3,"c":4,"t":"o","x":292.5,"y":-0.35,"e":0.17},{"m":3,"c":4,"t":"o","x":337.5,"y":-0.58,"e":0.3},
        {"m":3,"c":4,"t":"r","x":22.5,"y":-0.66},{"m":3,"c":4,"t":"r","x":45,"y":-0.62},{"m":3,"c":4,"t":"r","x":67.5,"y":-0.55},{"m":3,"c":4,"t":"r","x":90,"y":-0.39},{"m":3,"c":4,"t":"r","x":112.5,"y":-0.21},{"m":3,"c":4,"t":"r","x":135,"y":0.07},{"m":3,"c":4,"t":"r","x":157.5,"y":0.25},{"m":3,"c":4,"t":"r","x":180,"y":0.32},{"m":3,"c":4,"t":"r","x":202.5,"y":0.25},{"m":3,"c":4,"t":"r","x":225,"y":0.02},{"m":3,"c":4,"t":"r","x":247.5,"y":-0.25},{"m":3,"c":4,"t":"r","x":270,"y":-0.48},{"m":3,"c":4,"t":"r","x":292.5,"y":-0.62},{"m":3,"c":4,"t":"r","x":315,"y":-0.68},{"m":3,"c":4,"t":"r","x":337.5,"y":-0.69},
        {"m":3,"c":4,"t":"b","x":22.5,"y":-0.66},{"m":3,"c":4,"t":"b","x":45,"y":-0.58},{"m":3,"c":4,"t":"b","x":67.5,"y":-0.50},{"m":3,"c":4,"t":"b","x":90,"y":-0.34},{"m":3,"c":4,"t":"b","x":112.5,"y":-0.18},{"m":3,"c":4,"t":"b","x":135,"y":0.05},{"m":3,"c":4,"t":"b","x":157.5,"y":0.21},{"m":3,"c":4,"t":"b","x":180,"y":0.25},{"m":3,"c":4,"t":"b","x":202.5,"y":0.21},{"m":3,"c":4,"t":"b","x":225,"y":0.0},{"m":3,"c":4,"t":"b","x":247.5,"y":-0.21},{"m":3,"c":4,"t":"b","x":270,"y":-0.41},{"m":3,"c":4,"t":"b","x":292.5,"y":-0.57},{"m":3,"c":4,"t":"b","x":315,"y":-0.67},{"m":3,"c":4,"t":"b","x":337.5,"y":-0.69},

        {"m":3,"c":5,"t":"f","x":22.5,"y":-0.39,"e":0.25},{"m":3,"c":5,"t":"f","x":67.5,"y":-0.31,"e":0.18},{"m":3,"c":5,"t":"f","x":112.5,"y":-0.18,"e":0.15},{"m":3,"c":5,"t":"f","x":157.5,"y":-0.29,"e":0.15},{"m":3,"c":5,"t":"f","x":202.5,"y":-0.38,"e":0.15},{"m":3,"c":5,"t":"f","x":247.5,"y":-0.31,"e":0.15},{"m":3,"c":5,"t":"f","x":292.5,"y":-0.22,"e":0.18},{"m":3,"c":5,"t":"f","x":337.5,"y":-0.61,"e":0.25},
        {"m":3,"c":5,"t":"o","x":22.5,"y":-0.61,"e":0.25},{"m":3,"c":5,"t":"o","x":67.5,"y":-0.22,"e":0.18},{"m":3,"c":5,"t":"o","x":112.5,"y":-0.31,"e":0.15},{"m":3,"c":5,"t":"o","x":157.5,"y":-0.38,"e":0.15},{"m":3,"c":5,"t":"o","x":202.5,"y":-0.29,"e":0.15},{"m":3,"c":5,"t":"o","x":247.5,"y":-0.18,"e":0.15},{"m":3,"c":5,"t":"o","x":292.5,"y":-0.31,"e":0.18},{"m":3,"c":5,"t":"o","x":337.5,"y":-0.39,"e":0.25},
        {"m":3,"c":5,"t":"r","x":22.5,"y":-0.47},{"m":3,"c":5,"t":"r","x":47.5,"y":-0.46},{"m":3,"c":5,"t":"r","x":72.5,"y":-0.41},{"m":3,"c":5,"t":"r","x":98,"y":-0.30},{"m":3,"c":5,"t":"r","x":123,"y":-0.17},{"m":3,"c":5,"t":"r","x":148,"y":-0.08},{"m":3,"c":5,"t":"r","x":173,"y":-0.02},{"m":3,"c":5,"t":"r","x":198,"y":-0.01},{"m":3,"c":5,"t":"r","x":223,"y":-0.05},{"m":3,"c":5,"t":"r","x":248,"y":-0.12},{"m":3,"c":5,"t":"r","x":273,"y":-0.22},{"m":3,"c":5,"t":"r","x":298,"y":-0.32},{"m":3,"c":5,"t":"r","x":323.5,"y":-0.43},{"m":3,"c":5,"t":"r","x":338,"y":-0.49},
        {"m":3,"c":5,"t":"b","x":22.5,"y":-0.44},{"m":3,"c":5,"t":"b","x":47.5,"y":-0.39},{"m":3,"c":5,"t":"b","x":72.5,"y":-0.32},{"m":3,"c":5,"t":"b","x":98,"y":-0.21},{"m":3,"c":5,"t":"b","x":123,"y":-0.15},{"m":3,"c":5,"t":"b","x":148,"y":-0.18},{"m":3,"c":5,"t":"b","x":173,"y":-0.21},{"m":3,"c":5,"t":"b","x":198,"y":-0.21},{"m":3,"c":5,"t":"b","x":223,"y":-0.20},{"m":3,"c":5,"t":"b","x":248,"y":-0.16},{"m":3,"c":5,"t":"b","x":273,"y":-0.15},{"m":3,"c":5,"t":"b","x":298,"y":-0.21},{"m":3,"c":5,"t":"b","x":323.5,"y":-0.33},{"m":3,"c":5,"t":"b","x":338,"y":-0.46}
      ]},
      "facet": {
        "row": {
          "field": "m", "type": "ordinal", "sort": [1, 2, 3], "title": null,
          "header": {
            "labelOrient": "right", "labelAngle": -90, "labelPadding": 5, "labelFontSize": 10.5,
            "labelExpr": "['1050MeV < mₚπ⁰ < 1186MeV','1186MeV < mₚπ⁰ < 1322MeV','1322MeV < mₚπ⁰ < 1458MeV'][datum.value-1]"
          }
        },
        "column": {
          "field": "c", "type": "ordinal", "sort": [1, 2, 3, 4, 5],
          "header": {
            "labelOrient": "top", "labelPadding": 4, "labelFontSize": 12,
            "labelExpr": "['-1.00 < cosϑπ⁰ < -0.60','-0.60 < cosϑπ⁰ < -0.20','-0.20 < cosϑπ⁰ < 0.20','0.20 < cosϑπ⁰ < 0.60','0.60 < cosϑπ⁰ < 1.00'][datum.value-1]",
            "title": "ϕ*ₚπ⁰ [°]", "titleOrient": "bottom", "titleAnchor": "end", "titleAlign": "center",
            "titleFontSize": 18, "titleFontWeight": "normal", "titlePadding": 8
          }
        }
      },
      "spacing": {"row": 0, "column": 0},
      "spec": {
        "width": 143.5,
        "height": 145,
        "layer": [
          {
            "transform": [{"filter": "datum.t=='r'"}],
            "mark": {"type": "line", "color": "#ff0000", "strokeWidth": 1.4, "interpolate": "monotone"},
            "encoding": {
              "x": {
                "field": "x", "type": "quantitative",
                "scale": {"domain": [0, 360], "nice": false, "zero": false},
                "axis": {
                  "title": null,
                  "values": [0, 100, 200, 300],
                  "format": "d",
                  "tickSize": -7, "labelPadding": 10,
                  "labelFont": "DejaVu Sans", "labelFontSize": 14
                }
              },
              "y": {
                "field": "y", "type": "quantitative",
                "scale": {"domain": [-1, 1], "nice": false, "zero": false},
                "axis": {
                  "title": null,
                  "values": [-1, -0.5, 0, 0.5],
                  "format": "~g",
                  "tickSize": -7, "labelPadding": 11,
                  "labelFont": "Liberation Sans", "labelFontSize": 14
                }
              }
            }
          },
          {
            "transform": [{"filter": "datum.t=='b'"}],
            "mark": {"type": "line", "color": "#0000ff", "strokeWidth": 1.4, "interpolate": "monotone"},
            "encoding": {
              "x": {"field": "x", "type": "quantitative"},
              "y": {"field": "y", "type": "quantitative"}
            }
          },
          {
            "transform": [{"filter": "datum.t=='f' && datum.x==112.5"}],
            "mark": {"type": "rule", "color": "#bbbbbb", "strokeWidth": 2},
            "encoding": {"y": {"datum": 0.015}}
          },
          {
            "transform": [{"filter": "datum.t=='f' && datum.x==112.5"}],
            "mark": {"type": "rule", "color": "#222222", "strokeWidth": 1.2},
            "encoding": {"y": {"datum": 0}}
          },
          {
            "transform": [{"filter": "datum.t=='f' || datum.t=='o'"}],
            "mark": {"type": "errorbar", "color": "black", "thickness": 1.3, "ticks": {"size": 6, "thickness": 1.3}},
            "encoding": {
              "x": {"field": "x", "type": "quantitative"},
              "y": {"field": "y", "type": "quantitative"},
              "yError": {"field": "e"}
            }
          },
          {
            "transform": [{"filter": "datum.t=='o'"}],
            "mark": {"type": "circle", "color": "white", "stroke": "black", "strokeWidth": 1.4, "size": 55, "opacity": 1},
            "encoding": {
              "x": {"field": "x", "type": "quantitative"},
              "y": {"field": "y", "type": "quantitative"}
            }
          },
          {
            "transform": [{"filter": "datum.t=='f'"}],
            "mark": {"type": "circle", "color": "black", "size": 55, "opacity": 1},
            "encoding": {
              "x": {"field": "x", "type": "quantitative"},
              "y": {"field": "y", "type": "quantitative"}
            }
          }
        ]
      }
    }
  ],
  "config": {
    "font": "Liberation Sans",
    "view": {"stroke": "black", "strokeWidth": 1.5},
    "axis": {
      "domain": false, "grid": false,
      "tickColor": "black", "tickWidth": 1.2,
      "labelColor": "black", "labelFontWeight": "bold"
    },
    "header": {
      "labelFont": "Liberation Sans", "labelColor": "black",
      "titleFont": "Liberation Sans", "titleColor": "black"
    }
  }
}
